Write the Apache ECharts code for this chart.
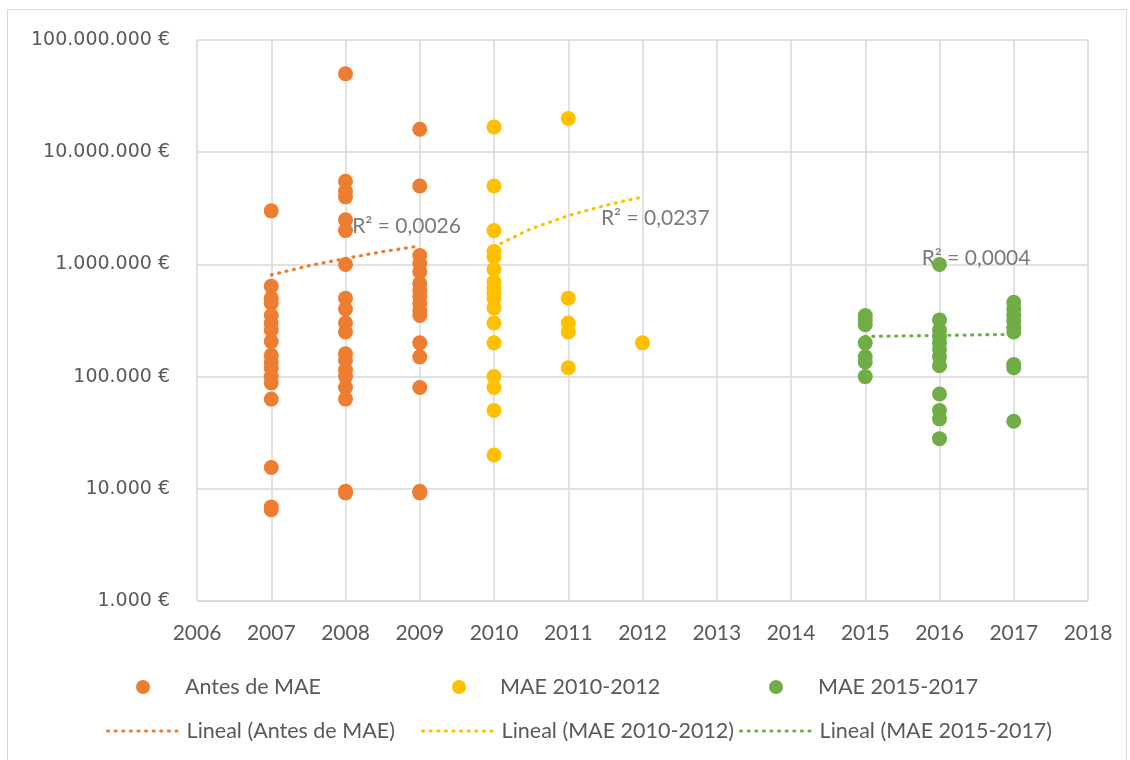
<!DOCTYPE html>
<html>
<head>
<meta charset="utf-8">
<script src="https://cdn.jsdelivr.net/npm/echarts@6/dist/echarts.min.js"></script>
<style>
html,body{margin:0;padding:0;background:#fff;}
#chart{width:1130px;height:760px;}
</style>
</head>
<body>
<div id="chart"></div>
<script>
// ---- Data ----
const seriesNames = ['Antes de MAE', 'MAE 2010-2012', 'MAE 2015-2017'];
const trendNames = ['Lineal (Antes de MAE)', 'Lineal (MAE 2010-2012)', 'Lineal (MAE 2015-2017)'];

const antes2007 = [3000000, 640000, 500000, 450000, 350000, 300000, 260000, 205000, 155000, 135000, 118000, 100000, 88000, 63000, 15500, 6900, 6500];
const antes2008 = [50000000, 5500000, 4500000, 4000000, 2500000, 2000000, 1000000, 500000, 400000, 300000, 250000, 160000, 140000, 115000, 100000, 80000, 63000, 9500, 9200];
const antes2009 = [16000000, 5000000, 1200000, 1020000, 860000, 680000, 590000, 520000, 450000, 390000, 350000, 200000, 150000, 80000, 9500, 9200];

const mae2010 = [16800000, 5000000, 2000000, 1300000, 1170000, 900000, 700000, 610000, 550000, 500000, 410000, 300000, 200000, 100000, 80000, 50000, 20000];
const mae2011 = [20000000, 500000, 300000, 250000, 120000];
const mae2012 = [200000];

const mae2015 = [350000, 320000, 290000, 200000, 150000, 135000, 100000];
const mae2016 = [1000000, 320000, 260000, 230000, 200000, 175000, 150000, 125000, 70000, 50000, 42000, 28000];
const mae2017 = [460000, 400000, 350000, 310000, 275000, 250000, 128000, 120000, 40000];

// trendline values read at positions along each dotted line
const antesTrendX = [2007, 2007.5, 2008, 2008.5, 2009];
const antesTrendY = [807000, 970000, 1130000, 1300000, 1460000];
const maeATrendX = [2010, 2010.5, 2011, 2011.5, 2012];
const maeATrendY = [1440000, 2080000, 2720000, 3360000, 4000000];
const maeBTrendX = [2015, 2016, 2017];
const maeBTrendY = [228000, 233000, 238000];

// R² labels
const r2Text = ['R² = 0,0026', 'R² = 0,0237', 'R² = 0,0004'];
const r2X = [2008.09, 2011.44, 2015.76];
const r2Y = [2200000, 2590000, 1140000];

const yTicks = [1000, 10000, 100000, 1000000, 10000000, 100000000];

// ---- Build ----
const colors = ['#ED7D31', '#FFC000', '#70AD47'];
function pts(year, arr) { return arr.map(v => [year, v]); }
function zip(xs, ys) { return xs.map((x, i) => [x, ys[i]]); }

const scatterData = [
  [].concat(pts(2007, antes2007), pts(2008, antes2008), pts(2009, antes2009)),
  [].concat(pts(2010, mae2010), pts(2011, mae2011), pts(2012, mae2012)),
  [].concat(pts(2015, mae2015), pts(2016, mae2016), pts(2017, mae2017))
];
const trendData = [zip(antesTrendX, antesTrendY), zip(maeATrendX, maeATrendY), zip(maeBTrendX, maeBTrendY)];

const FONT = 'Lato';
const TXT = '#595959';
const dotType = [1, 6.6];

const series = [];
trendData.forEach((d, i) => {
  series.push({
    name: trendNames[i], type: 'line', data: d, symbol: 'none', showSymbol: false, smooth: false, z: 3,
    lineStyle: { color: colors[i], width: 3.2, type: dotType, cap: 'round' },
    silent: true
  });
});
scatterData.forEach((d, i) => {
  series.push({
    name: seriesNames[i], type: 'scatter', data: d, symbol: 'circle', symbolSize: 15, z: 4,
    itemStyle: { color: colors[i], opacity: 1 }
  });
});
series.push({
  name: 'r2', type: 'scatter', z: 2, symbolSize: 0, silent: true,
  data: r2Text.map((t, i) => ({ value: [r2X[i], r2Y[i]], name: t })),
  label: { show: true, position: 'right', distance: 0, formatter: p => p.name,
    fontFamily: FONT, fontSize: 21, color: TXT }
});

const iconCenters = [143, 459, 776];
const textLefts = [185, 500, 818];
const legends = [];
seriesNames.forEach((n, i) => legends.push({
  data: [{ name: n, icon: 'circle' }], left: iconCenters[i] - 7 - 5, top: 671,
  itemWidth: 14, itemHeight: 14, itemGap: 0,
  textStyle: { fontFamily: FONT, fontSize: 21.5, color: TXT,
    padding: [0, 0, 0, textLefts[i] - (iconCenters[i] + 7 + 5)] },
  selectedMode: false
}));
trendNames.forEach((n, i) => legends.push({
  data: [n], left: textLefts[i] - 5 - 74 - 5, top: 715, itemWidth: 74, itemHeight: 14, itemGap: 0,
  lineStyle: { width: 3.2, type: dotType, cap: 'round' },
  itemStyle: { opacity: 0 },
  textStyle: { fontFamily: FONT, fontSize: 21.5, color: TXT }, selectedMode: false
}));

const chart = echarts.init(document.getElementById('chart'), null, { renderer: 'canvas' });
chart.setOption({
  animation: false,
  backgroundColor: '#fff',
  color: colors,
  graphic: [{ type: 'rect', shape: { x: 7.5, y: 9.5, width: 1119, height: 800 },
    style: { fill: 'none', stroke: '#d9d9d9', lineWidth: 1 }, silent: true }],
  grid: { left: 197, right: 42, top: 40, bottom: 159, containLabel: false },
  xAxis: {
    type: 'value', min: 2006, max: 2018, interval: 1,
    axisLine: { show: false }, axisTick: { show: false },
    splitLine: { show: true, lineStyle: { color: '#d9d9d9', width: 1.5 } },
    axisLabel: { fontFamily: FONT, fontSize: 21, color: TXT, margin: 22, formatter: v => String(v) }
  },
  yAxis: {
    type: 'log', logBase: 10, min: yTicks[0], max: yTicks[yTicks.length - 1],
    axisLine: { show: false }, axisTick: { show: false },
    splitLine: { show: true, lineStyle: { color: '#d9d9d9', width: 1.5 } },
    axisLabel: { fontFamily: 'DejaVu Sans', fontSize: 19, color: TXT, margin: 27,
      formatter: v => Math.round(v).toString().replace(/\B(?=(\d{3})+(?!\d))/g, '.') + ' €' }
  },
  legend: legends,
  series: series
});
</script>
</body>
</html>
